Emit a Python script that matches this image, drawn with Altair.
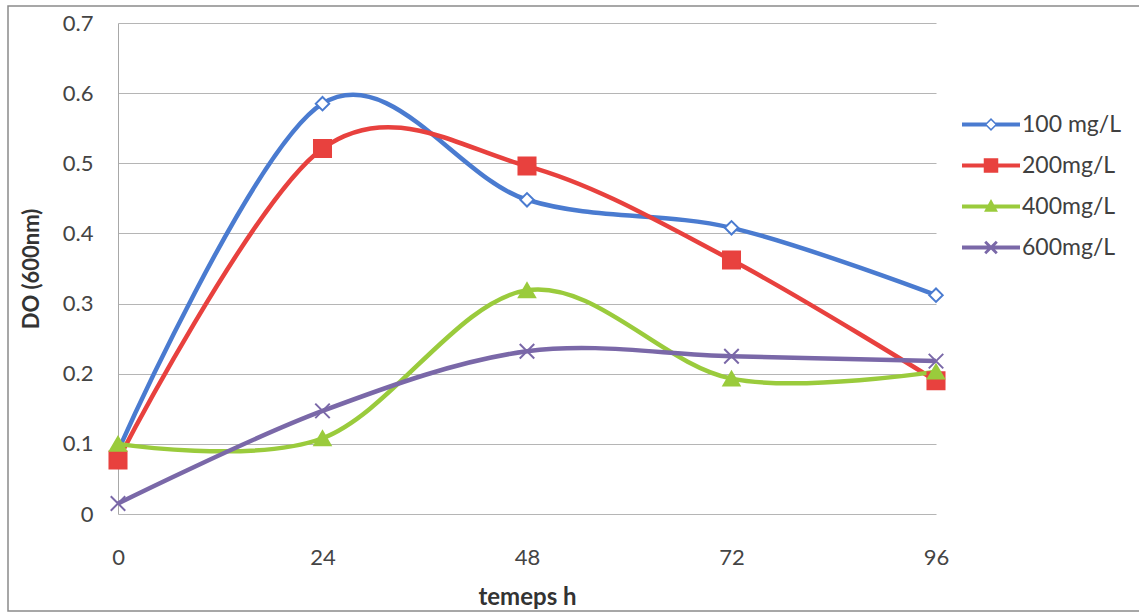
import altair as alt
import pandas as pd

hours = [0, 24, 48, 72, 96]
series_names = ["100 mg/L", "200mg/L", "400mg/L", "600mg/L"]
do_100 = [0.09, 0.585, 0.448, 0.408, 0.312]
do_200 = [0.077, 0.521, 0.496, 0.362, 0.19]
do_400 = [0.1, 0.108, 0.319, 0.193, 0.203]
do_600 = [0.015, 0.147, 0.232, 0.225, 0.218]

colors = ["#4a7bd0", "#e8413e", "#9acb3c", "#7a68a8"]
fills = ["#ffffff", "#e8413e", "#9acb3c", "#7a68a8"]
marker_shapes = ["diamond", "square", "triangle-up", "M-1,-1L1,1M-1,1L1,-1"]
marker_sizes = [180, 290, 260, 210]

# legend symbols: line + marker, as filled custom paths
line_l = "M-1,-0.07L-0.15,-0.07L-0.15,0.07L-1,0.07Z"
line_r = "M0.15,-0.07L1,-0.07L1,0.07L0.15,0.07Z"
line_full = "M-1,-0.07L1,-0.07L1,0.07L-1,0.07Z"
leg_diamond = line_l + line_r + "M0,-0.22L0.22,0L0,0.22L-0.22,0Z" + "M0,-0.15L-0.15,0L0,0.15L0.15,0Z"
leg_square = line_full + "M-0.25,-0.25L0.25,-0.25L0.25,0.25L-0.25,0.25Z"
leg_tri = line_full + "M0,-0.26L0.24,0.18L-0.24,0.18Z"
leg_x = (line_full
         + "M-0.165,-0.235L0.235,0.165L0.165,0.235L-0.235,-0.165Z"
         + "M-0.235,0.165L0.165,-0.235L0.235,-0.165L-0.165,0.235Z")
legend_shapes = [leg_diamond, leg_square, leg_tri, leg_x]

rows = []
for name, vals in zip(series_names, [do_100, do_200, do_400, do_600]):
    for h, v in zip(hours, vals):
        rows.append({"hour": h, "do": v, "series": name})
df = pd.DataFrame(rows)

x_enc = alt.X("hour:Q", scale=alt.Scale(domain=[0, 96], nice=False),
              axis=alt.Axis(values=hours, title="temeps h", grid=False, ticks=False,
                            domain=False, labelPadding=33, titlePadding=17,
                            labelFontSize=22, titleFontSize=24, titleFontWeight="bold",
                            labelColor="#444444", titleColor="#333333",
                            labelFont="Lato", titleFont="Lato", labelFlush=False))
y_enc = alt.Y("do:Q", scale=alt.Scale(domain=[0, 0.7], nice=False),
              axis=alt.Axis(values=[0, 0.1, 0.2, 0.3, 0.4, 0.5, 0.6, 0.7], format="~g",
                            title="DO (600nm)", grid=True, gridColor="#b5b5b5", gridWidth=1,
                            ticks=False, domain=True, domainColor="#a8a8a8", domainWidth=1,
                            labelPadding=25, titlePadding=19,
                            labelFontSize=22, titleFontSize=22, titleFontWeight="bold",
                            labelColor="#444444", titleColor="#333333",
                            labelFont="Lato", titleFont="Lato", labelFlush=False))

line_layers = []
point_layers = []
for i, (name, col, fil, shp, sz) in enumerate(zip(series_names, colors, fills, marker_shapes, marker_sizes)):
    base = alt.Chart(df).transform_filter(alt.datum.series == name)
    if i == 0:
        enc = dict(x=x_enc, y=y_enc)
    else:
        enc = dict(x="hour:Q", y="do:Q")
    line_layers.append(
        base.mark_line(interpolate="cardinal", strokeWidth=4.5, color=col).encode(**enc)
    )
    point_layers.append(
        base.mark_point(shape=shp, size=sz, stroke=col, fill=fil, strokeWidth=2,
                        opacity=1, filled=False).encode(x="hour:Q", y="do:Q")
    )

leg = alt.Legend(title=None, orient="none", legendX=844, legendY=82,
                 symbolSize=3364, symbolStrokeWidth=0, symbolOpacity=1,
                 clipHeight=39, rowPadding=2, labelOffset=2,
                 labelFontSize=23, labelFont="Lato", labelColor="#404040",
                 padding=0)

legend_layer = alt.Chart(df).transform_filter("datum.hour < 0").mark_point(filled=True).encode(
    x="hour:Q", y="do:Q",
    color=alt.Color("series:N", scale=alt.Scale(domain=series_names, range=colors), legend=leg),
    shape=alt.Shape("series:N", scale=alt.Scale(domain=series_names, range=legend_shapes), legend=leg),
)

frame = alt.Chart(alt.Data(values=[{"a": 1}])).mark_rect(
    fill="transparent", stroke="#8a8a8a", strokeWidth=1.5
).encode(
    x=alt.value(-110), x2=alt.value(1030), y=alt.value(-17), y2=alt.value(588)
)

chart = alt.layer(frame, *line_layers, *point_layers, legend_layer).properties(
    width=818, height=491,
    autosize=alt.AutoSizeParams(type="none"),
    padding={"left": 118, "top": 23, "right": 203, "bottom": 98},
    background="white",
).configure_view(stroke=None)

chart.save("out.html", embed_options={"renderer": "svg", "actions": False})
